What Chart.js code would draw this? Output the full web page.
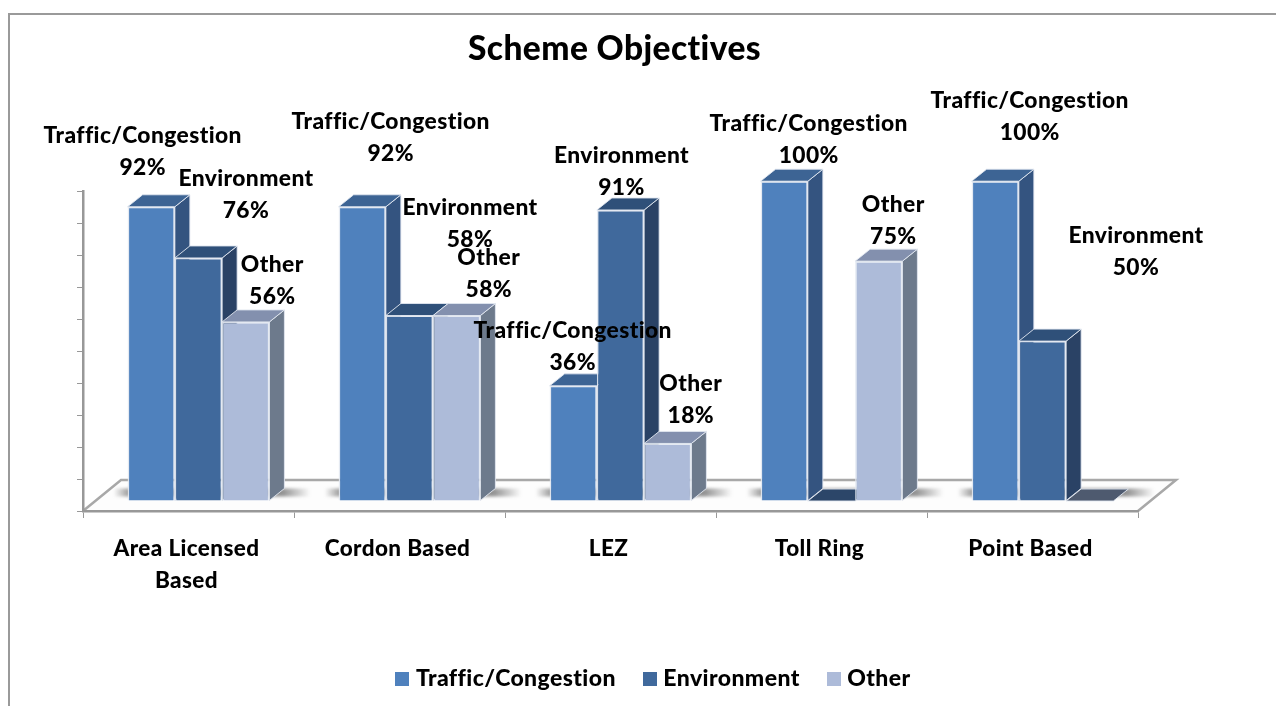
<!DOCTYPE html>
<html>
<head>
<meta charset="utf-8">
<title>Scheme Objectives</title>
<script src="https://cdn.jsdelivr.net/npm/chart.js@4/dist/chart.umd.min.js"></script>
<style>
  html, body { margin: 0; padding: 0; background: #fff; overflow: hidden; }
  canvas { display: block; }
</style>
</head>
<body>
<canvas id="graficoObjetivos" width="1276" height="706"></canvas>
<script>
const categories = [['Area Licensed', 'Based'], 'Cordon Based', 'LEZ', 'Toll Ring', 'Point Based'];
const seriesNames = ['Traffic/Congestion', 'Environment', 'Other'];
const traffic = [92, 92, 36, 100, 100];
const environment = [76, 58, 91, 0, 50];
const other = [56, 58, 18, 75, 0];

// how far each data label sits from the top of its bar
const labelOffsets = [
    [[-8.5, -39], [28.5, -53], [-0.5, -23], [24.5, -26], [34.5, -49]],
    [[47.5, -47], [60.5, -76], [1, -22], null, [93.5, -73]],
    [[26.5, -25], [32, -26], [23, -28], [14.5, -25], null]
];

const frontColors = ['#4f81bd', '#40699c', '#adbbd9'];
const topColors = ['#3d6494', '#2f5079', '#8390ae'];
const sideColors = ['#345480', '#2a4265', '#6d7a8c'];
const flatColors = ['#3d6494', '#2c4669', '#4e5a6f'];
const edgeColor = 'rgba(226, 232, 241, 0.9)';
const axisColor = '#989898';
const fontFamily = 'Lato, "Open Sans", sans-serif';

// bars stand behind the front edge of the floor
const barShift = { x: 10, y: -10 };
const barDepth = { x: 15, y: -12 };
const floorDepth = { x: 38, y: -31 };

function poly(ctx, points, fill) {
    ctx.beginPath();
    points.forEach((p, i) => i ? ctx.lineTo(p[0], p[1]) : ctx.moveTo(p[0], p[1]));
    ctx.closePath();
    ctx.fillStyle = fill;
    ctx.fill();
    ctx.strokeStyle = edgeColor;
    ctx.lineWidth = 1;
    ctx.stroke();
}

function legendSwatch(color) {
    const c = document.createElement('canvas');
    c.width = 14;
    c.height = 14;
    const g = c.getContext('2d');
    g.fillStyle = color;
    g.fillRect(0, 0, 14, 14);
    return c;
}

const cenario3d = {
    id: 'cenario3d',
    beforeLayout(chart) {
        // a little tracking also turns off Lato's ti and ffi ligatures
        chart.ctx.letterSpacing = '0.4px';
    },
    beforeDraw(chart) {
        const { ctx, chartArea: a } = chart;
        ctx.save();
        // outer frame
        ctx.strokeStyle = '#9a9a9a';
        ctx.lineWidth = 2;
        ctx.beginPath();
        ctx.moveTo(9, chart.height);
        ctx.lineTo(9, 14);
        ctx.lineTo(chart.width, 14);
        ctx.stroke();
        // floor
        ctx.beginPath();
        ctx.moveTo(a.left, a.bottom);
        ctx.lineTo(a.left + floorDepth.x, a.bottom + floorDepth.y);
        ctx.lineTo(a.right + floorDepth.x, a.bottom + floorDepth.y);
        ctx.lineTo(a.right, a.bottom);
        ctx.fillStyle = '#fdfdfd';
        ctx.fill();
        ctx.strokeStyle = '#a8a8a8';
        ctx.lineWidth = 2.5;
        ctx.stroke();
        ctx.restore();
    },
    beforeDatasetsDraw(chart) {
        const ctx = chart.ctx;
        const metas = chart.getSortedVisibleDatasetMetas();
        ctx.save();
        ctx.translate(barShift.x, barShift.y);

        // soft shadow on the floor
        categories.forEach((c, i) => {
            const first = metas[0].data[i];
            const last = metas[metas.length - 1].data[i];
            const x0 = first.x - first.width / 2 - 14;
            const x1 = last.x + last.width / 2 + 41;
            const g = ctx.createLinearGradient(x0, 0, x1, 0);
            g.addColorStop(0, 'rgba(90, 90, 90, 0)');
            g.addColorStop(0.07, 'rgba(90, 90, 90, 0.55)');
            g.addColorStop(0.86, 'rgba(90, 90, 90, 0.65)');
            g.addColorStop(1, 'rgba(90, 90, 90, 0)');
            ctx.save();
            ctx.filter = 'blur(1.5px)';
            ctx.fillStyle = g;
            ctx.fillRect(x0, first.base - 12, x1 - x0, 8);
            ctx.restore();
        });

        // side and top faces, left to right; the fronts are painted over them after
        categories.forEach((c, i) => {
            metas.forEach((meta, s) => {
                const bar = meta.data[i];
                const l = bar.x - bar.width / 2;
                const r = bar.x + bar.width / 2;
                const d = barDepth;
                const value = chart.data.datasets[s].data[i];
                if (value > 0) {
                    poly(ctx, [[r, bar.y], [r + d.x, bar.y + d.y], [r + d.x, bar.base + d.y], [r, bar.base]], sideColors[s]);
                }
                poly(ctx, [[l, bar.y], [l + d.x, bar.y + d.y], [r + d.x, bar.y + d.y], [r, bar.y]],
                    value > 0 ? topColors[s] : flatColors[s]);
            });
        });
    },
    afterDatasetsDraw(chart) {
        const ctx = chart.ctx;
        ctx.font = '900 22.8px ' + fontFamily;
        ctx.fillStyle = '#000';
        ctx.textAlign = 'center';
        ctx.textBaseline = 'middle';
        chart.getSortedVisibleDatasetMetas().forEach((meta, s) => {
            meta.data.forEach((bar, i) => {
                const off = labelOffsets[s][i];
                const value = chart.data.datasets[s].data[i];
                if (!off || !value) return;
                ctx.fillText(seriesNames[s], bar.x + off[0], bar.y + off[1] - 32);
                ctx.fillText(value + '%', bar.x + off[0], bar.y + off[1]);
            });
        });
        ctx.restore();
    },
    afterLayout(chart) {
        // title and legend are not centred on the same line in the original
        chart.titleBlock.left += 7;
        chart.titleBlock.right += 7;
        chart.legend.left += 48;
        chart.legend.right += 48;
        chart.legend.top -= 6;
        chart.legend.bottom -= 6;
    }
};

new Chart(document.getElementById('graficoObjetivos'), {
    type: 'bar',
    data: {
        labels: categories,
        datasets: [
            { label: seriesNames[0], data: traffic, backgroundColor: frontColors[0] },
            { label: seriesNames[1], data: environment, backgroundColor: frontColors[1] },
            { label: seriesNames[2], data: other, backgroundColor: frontColors[2] }
        ]
    },
    plugins: [cenario3d],
    options: {
        responsive: false,
        animation: false,
        devicePixelRatio: 1,
        layout: { padding: { left: 77, right: 138, top: 0, bottom: 0 } },
        datasets: {
            bar: {
                barPercentage: 1,
                categoryPercentage: 0.672,
                borderColor: edgeColor,
                borderWidth: 1.5,
                clip: false
            }
        },
        plugins: {
            tooltip: { enabled: false },
            title: {
                display: true,
                text: 'Scheme Objectives',
                color: '#000',
                font: { family: fontFamily, size: 33.5, weight: 900, lineHeight: 1.2 },
                padding: { top: 29, bottom: 122 }
            },
            legend: {
                position: 'bottom',
                labels: {
                    color: '#000',
                    font: { family: fontFamily, size: 23, weight: 900 },
                    usePointStyle: true,
                    pointStyleWidth: 4,
                    boxHeight: 14,
                    padding: 32,
                    generateLabels(chart) {
                        const items = Chart.defaults.plugins.legend.labels.generateLabels(chart);
                        items.forEach((item, i) => { item.pointStyle = legendSwatch(frontColors[i]); });
                        return items;
                    }
                }
            }
        },
        scales: {
            x: {
                afterFit: scale => { scale.height = 130; },
                border: { color: axisColor, width: 2.5 },
                grid: { drawOnChartArea: false, color: axisColor, tickLength: 7 },
                ticks: {
                    color: '#000',
                    padding: 15,
                    labelOffset: -2,
                    maxRotation: 0,
                    autoSkip: false,
                    font: { family: fontFamily, size: 22.5, weight: 900, lineHeight: 1.42 }
                }
            },
            y: {
                min: 0,
                max: 100,
                border: { color: axisColor, width: 2.5 },
                grid: { drawOnChartArea: false, color: axisColor, tickLength: 6 },
                ticks: { display: false, stepSize: 10 }
            }
        }
    }
});
</script>
</body>
</html>
